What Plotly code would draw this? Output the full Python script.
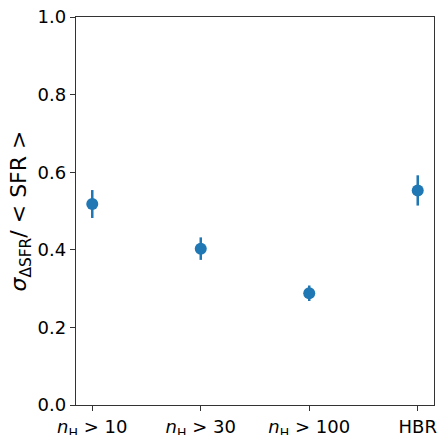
import plotly.graph_objects as go

categories = ["<i>n</i><sub>H</sub> > 10", "<i>n</i><sub>H</sub> > 30", "<i>n</i><sub>H</sub> > 100", "HBR"]
values = [0.518, 0.403, 0.288, 0.553]
errors = [0.036, 0.029, 0.020, 0.039]
x_idx = [0, 1, 2, 3]
y_ticks = [0.0, 0.2, 0.4, 0.6, 0.8, 1.0]

color = "#1f77b4"
fig = go.Figure()
fig.add_trace(go.Scatter(
    x=x_idx, y=values, mode="markers",
    marker=dict(size=12, color=color),
    error_y=dict(type="data", array=errors, visible=True, color=color, thickness=2.5, width=0),
    showlegend=False,
))

axis_common = dict(showline=True, linecolor="#333333", linewidth=1.3, mirror=True,
                   ticks="outside", ticklen=5, tickwidth=1.2, tickcolor="#333333",
                   showgrid=False, zeroline=False, automargin=False)
fig.update_xaxes(range=[-0.15, 3.15], tickvals=x_idx, ticktext=categories, **axis_common)
fig.update_yaxes(range=[0, 1], tickvals=y_ticks, ticktext=[f"{v:.1f}" for v in y_ticks],
                 title=dict(text="<i>σ</i><sub>ΔSFR</sub>/ < SFR >", standoff=4), **axis_common)
fig.update_layout(
    width=440, height=435,
    margin=dict(l=76, r=6, t=17, b=30),
    paper_bgcolor="white", plot_bgcolor="white",
    font=dict(family="DejaVu Sans", size=18, color="black"),
)
fig.write_html("out.html", config={"displayModeBar": False},
               post_script="document.body.style.margin='0';document.body.style.overflow='hidden';")
